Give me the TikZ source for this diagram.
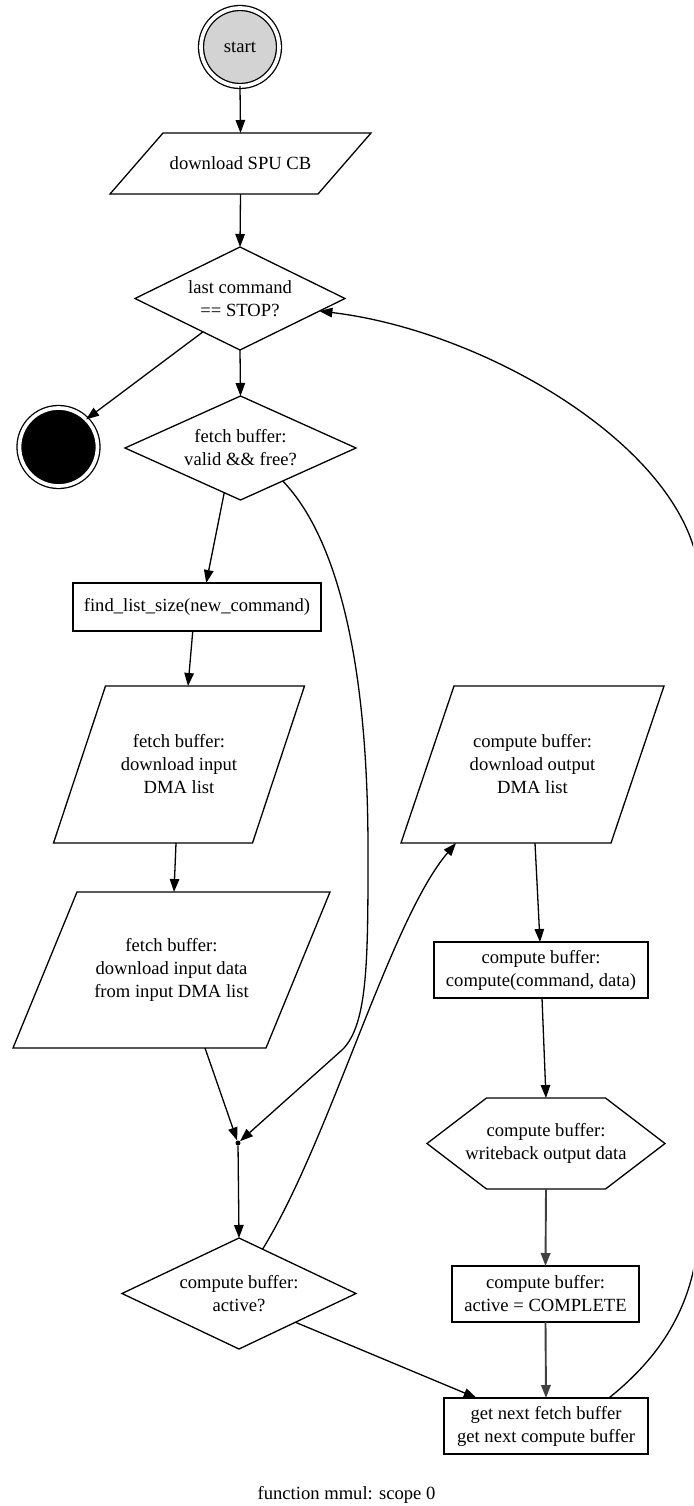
\documentclass[tikz,border=0pt]{standalone}
\usepackage{fontspec}
\setmainfont{Liberation Serif}
\usetikzlibrary{shapes.geometric,arrows.meta,calc}
\definecolor{startgray}{RGB}{211,211,211}

% outline of a slanted (parallelogram) box around an invisible rectangle node
\newcommand\drawslant[2]{%
  \draw[outline] ($(#1.north west)+(#2,0)$) -- ($(#1.north east)+(#2,0)$)
    -- ($(#1.south east)-(#2,0)$) -- ($(#1.south west)-(#2,0)$) -- cycle;}
% outline of a hexagon around an invisible rectangle node
\newcommand\drawhexagon[2]{%
  \draw[outline] (#1.west) -- ($(#1.north west)+(#2,0)$) -- ($(#1.north east)-(#2,0)$)
    -- (#1.east) -- ($(#1.south east)-(#2,0)$) -- ($(#1.south west)+(#2,0)$) -- cycle;}

\begin{document}
\begin{tikzpicture}[x=1pt,y=-1pt,
  every node/.style={font=\fontsize{18.6}{23}\selectfont, align=center},
  outline/.style={line width=1.3pt, line join=miter},
  box/.style={draw, outline, rectangle, inner sep=0pt, outer sep=0pt},
  slanted/.style={rectangle, inner sep=0pt, outer sep=0pt},
  decision/.style={draw, outline, diamond, shape aspect=2, inner sep=0pt, outer sep=0pt},
  terminal/.style={draw, circle, line width=1.3pt, double, double distance=3.7pt,
    inner sep=0pt, outer sep=0pt, minimum size=78pt},
  flow/.style={line width=1.3pt, -{Triangle[length=13pt,width=9.5pt]}},
  heavyflow/.style={flow, line width=1.9pt, draw=black!75},
]
\fill[white] (0,0) rectangle (693,1506);
\useasboundingbox (0,0) rectangle (693,1506);

% nodes
\node[terminal, fill=startgray] (start) at (240,47) {start};
\node[slanted, minimum width=208pt, minimum height=61pt] (spu) at (240.5,163.5) {download SPU CB};
\node[decision, minimum width=210pt, minimum height=103pt] (d1) at (240,298.5) {last command\\ == STOP?};
\node[terminal, fill=black] (stop) at (58.5,447) {};
\node[decision, minimum width=231pt, minimum height=104pt] (d2) at (240.5,448) {fetch buffer:\\valid \&\& free?};
\node[box, minimum width=248pt, minimum height=48pt] (find) at (197,607) {find\_list\_size(new\_command)};
\node[slanted, minimum width=199pt, minimum height=157pt] (p1) at (179,764.5) {fetch buffer:\\download input\\DMA list};
\node[slanted, minimum width=253pt, minimum height=156pt] (p2) at (171.5,970) {fetch buffer:\\download input data\\from input DMA list};
\node[slanted, minimum width=210pt, minimum height=157pt] (p3) at (532.5,764.5) {compute buffer:\\download output\\DMA list};
\node[box, line width=2.6pt, minimum width=214pt, minimum height=56pt] (comp) at (541,970) {compute buffer:\\compute(command, data)};
\node[slanted, minimum width=238pt, minimum height=91pt] (hex) at (546,1143.5) {compute buffer:\\writeback output data};
\node[circle, fill, inner sep=0pt, minimum size=5pt] (pt) at (238,1143) {};
\node[decision, minimum width=234pt, minimum height=111pt] (d3) at (239,1293.5) {compute buffer:\\active?};
\node[box, minimum width=187pt, minimum height=56pt] (act) at (545.5,1294) {compute buffer:\\active = COMPLETE};
\node[box, minimum width=204pt, minimum height=56pt] (next) at (546,1426) {get next fetch buffer\\get next compute buffer};
\node[anchor=base] (cap) at (346.5,1499) {function mmul: scope 0};

% outlines of the slanted boxes and the hexagon
\drawslant{spu}{26.5}
\drawslant{p1}{26}
\drawslant{p2}{32}
\drawslant{p3}{26.5}
\drawhexagon{hex}{59.5}

% connectors
\draw[flow] (start.south) -- (spu.north);
\draw[flow] (spu.south) -- (d1.north);
\draw[flow] (d1.222) -- (stop.45);
\draw[flow] (d1.south) -- (d2.north);
\draw[flow] (d2.250) -- (find.69);
\draw[flow] (find.-100) -- ($(p1.north)+(9,0)$);
\draw[flow] ($(p1.south)+(-3,0)$) -- ($(p2.north)+(2.5,0)$);
\draw[flow] ($(p2.south)+(33.5,0)$) -- (pt);
\draw[flow] (d2.-38) .. controls (330,530) and (368,640) .. (368,850)
  .. controls (368,960) and (368,1025) .. (342,1050) -- (pt);
\draw[flow] (pt) -- (d3.north);
\draw[flow] (d3.62) .. controls (330,1140) and (390,920) .. ($(p3.south)+(-76.5,0)$);
\draw[flow] ($(p3.south)+(2.5,0)$) -- ($(comp.north)+(-1,0)$);
\draw[flow] ($(comp.south)+(1,0)$) -- (hex.north);
\draw[heavyflow] (hex.south) -- (act.north);
\draw[heavyflow] (act.south) -- (next.north);
\draw[flow] (d3.-27) -- (next.158);
\begin{scope}
  \clip (0,0) rectangle (693,1506);
  \draw[flow] (next.24) .. controls (650,1365) and (688,1320) .. (697,1250)
    .. controls (708,1100) and (712,700) .. (697,560)
    .. controls (672,440) and (480,330) .. (d1.-9);
\end{scope}
\end{tikzpicture}
\end{document}
